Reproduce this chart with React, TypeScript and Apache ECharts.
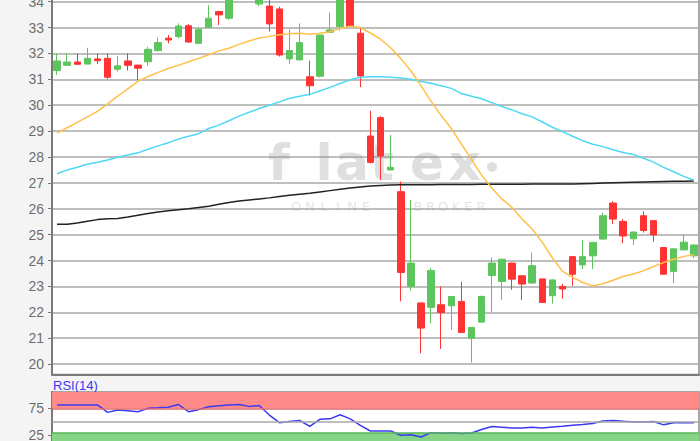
import React, { useEffect, useRef } from 'react';
import * as echarts from 'echarts';

const categories: string[] = Array.from({ length: 64 }, (_, i) => `T${i + 1}`);

const opens = [
  31.34, 31.54, 31.67, 31.59, 31.79, 31.81, 31.39, 31.71, 31.55, 31.68,
  32.11, 32.59, 32.65, 33.07, 32.39, 33.01, 33.62, 33.36, 34.4, 34.9,
  33.91, 33.83, 33.72, 31.79, 31.75, 31.1, 31.12, 32.82, 33.04, 34.3,
  32.78, 28.81, 29.52, 27.5, 26.66, 23.0, 22.36, 22.19, 22.29, 22.25,
  22.42, 21.0, 21.62, 23.42, 23.19, 23.9, 23.41, 23.13, 23.29, 22.64,
  23.0, 24.15, 23.83, 24.18, 24.83, 26.22, 25.51, 24.84, 25.73, 25.54,
  24.5, 23.58, 24.41, 24.18,
];
const closes = [
  31.71, 31.67, 31.58, 31.81, 31.72, 31.08, 31.52, 31.54, 31.43, 32.16,
  32.42, 32.52, 33.06, 32.44, 32.93, 33.36, 33.49, 34.4, 34.9, 34.5,
  34.5, 33.14, 31.94, 32.11, 32.42, 30.75, 32.71, 32.91, 34.3, 33.06,
  31.13, 27.79, 28.04, 27.6, 23.54, 23.9, 21.39, 23.61, 21.99, 22.61,
  21.22, 21.41, 22.61, 23.9, 24.05, 23.28, 23.09, 23.8, 22.38, 23.25,
  22.9, 23.47, 24.15, 24.7, 25.73, 25.6, 24.95, 25.1, 25.16, 24.99,
  23.47, 24.45, 24.71, 24.6,
];
const lows = [
  31.17, 31.53, 31.57, 31.58, 31.59, 31.01, 31.3, 31.34, 30.97, 31.53,
  32.07, 32.39, 32.59, 32.41, 32.39, 33.0, 33.1, 33.3, 34.2, 34.1,
  33.83, 32.84, 31.88, 31.6, 31.73, 30.37, 31.07, 32.8, 32.88, 33.03,
  30.7, 27.75, 27.11, 27.48, 22.42, 22.84, 20.42, 21.58, 20.58, 21.32,
  21.2, 20.06, 21.6, 22.01, 22.48, 22.87, 22.48, 23.1, 22.36, 22.33,
  22.52, 23.02, 23.67, 23.67, 24.81, 25.41, 24.67, 24.6, 25.08, 24.73,
  23.46, 23.13, 24.4, 24.1,
];
const highs = [
  32.0, 32.0, 32.0, 32.22, 32.0, 32.0, 31.9, 32.0, 31.56, 32.26,
  32.62, 32.71, 33.16, 33.13, 33.0, 33.87, 33.64, 34.6, 35.1, 35.0,
  34.7, 34.2, 33.8, 32.93, 33.16, 31.72, 32.72, 33.58, 34.5, 34.5,
  33.0, 29.78, 29.58, 28.85, 27.05, 26.34, 22.37, 23.71, 23.0, 22.62,
  23.18, 21.42, 22.65, 24.12, 24.07, 23.92, 23.43, 24.31, 23.3, 23.27,
  23.1, 24.17, 24.8, 24.72, 25.84, 26.29, 25.6, 25.12, 25.9, 25.56,
  24.52, 24.47, 24.99, 24.62,
];

const maShort = [
  28.92, 29.13, 29.34, 29.55, 29.76, 30.05, 30.35, 30.63, 30.92, 31.11,
  31.27, 31.42, 31.54, 31.68, 31.81, 31.95, 32.1, 32.2, 32.35, 32.48,
  32.6, 32.66, 32.72, 32.76, 32.78, 32.74, 32.78, 32.84, 32.97, 33.05,
  33.0, 32.79, 32.55, 32.22, 31.8, 31.33, 30.75, 30.15, 29.6, 29.1,
  28.5, 27.9, 27.3, 26.8, 26.38, 26.05, 25.6, 25.22, 24.7, 24.1,
  23.58, 23.35, 23.15, 23.02, 23.1, 23.24, 23.38, 23.48, 23.6, 23.77,
  23.92, 24.05, 24.16, 24.22,
];
const maMedium = [
  27.35, 27.5, 27.6, 27.72, 27.8, 27.88, 27.99, 28.08, 28.16, 28.3,
  28.43, 28.55, 28.69, 28.8, 28.9, 29.1, 29.23, 29.4, 29.58, 29.73,
  29.87, 30.0, 30.13, 30.27, 30.35, 30.42, 30.55, 30.69, 30.84, 30.98,
  31.08, 31.1, 31.1, 31.08, 31.05, 31.0, 30.92, 30.85, 30.75, 30.65,
  30.45, 30.35, 30.25, 30.1, 29.95, 29.82, 29.67, 29.55, 29.35, 29.15,
  28.98, 28.8, 28.63, 28.49, 28.4, 28.28, 28.17, 28.1, 27.95, 27.8,
  27.6, 27.43, 27.25, 27.1,
];
const maLong = [
  25.4, 25.4, 25.45, 25.52, 25.58, 25.61, 25.62, 25.68, 25.75, 25.82,
  25.87, 25.92, 25.96, 26.0, 26.05, 26.1, 26.17, 26.24, 26.3, 26.34,
  26.38, 26.42, 26.47, 26.52, 26.56, 26.6, 26.65, 26.7, 26.75, 26.8,
  26.84, 26.88, 26.9, 26.92, 26.93, 26.93, 26.93, 26.93, 26.94, 26.94,
  26.94, 26.94, 26.95, 26.95, 26.95, 26.95, 26.95, 26.96, 26.96, 26.96,
  26.96, 26.96, 26.97, 26.98, 26.99, 27.0, 27.01, 27.02, 27.03, 27.04,
  27.05, 27.06, 27.06, 27.07,
];
const rsi = [
  81.1, 81.1, 81.1, 81.1, 81.1, 67.5, 71.9, 70.5, 68.7, 74.9,
  75.8, 77.0, 82.0, 68.7, 72.5, 78.0, 79.5, 81.0, 82.0, 78.5,
  80.0, 62.5, 48.5, 50.5, 52.5, 41.5, 54.7, 55.5, 63.0, 55.5,
  43.6, 33.2, 33.2, 33.2, 25.3, 26.4, 22.2, 30.1, 29.0, 30.1,
  28.5, 29.4, 36.0, 41.5, 40.2, 38.7, 38.7, 40.2, 38.7, 40.5,
  42.0, 43.8, 45.2, 47.0, 51.8, 52.6, 51.0, 49.8, 49.8, 50.8,
  44.5, 48.5, 48.5, 48.5,
];

const rsiLabels = [25, 75];
const wmMain = ['f', 'l', 'a', 't', 'e', 'x'];
const wmSub = 'ONLINE BROKER';

export default function App() {
  const ref = useRef<HTMLDivElement>(null);
  useEffect(() => {
    if (!ref.current) return;
    const chart = echarts.init(ref.current, undefined, { renderer: 'svg' });
    const candleData = opens.map((o, i) => [o, closes[i], lows[i], highs[i]]);
    const wmCenters = [279, 324, 352, 382, 427, 465];
    const subGraphics: any[] = [];
    wmSub.split('').forEach((ch, i) => {
      if (ch === ' ') return;
      const x = i < 6 ? 296 + i * 14 : 418 + (i - 7) * 12.6;
      subGraphics.push({
        type: 'text', z: 1, silent: true,
        style: { text: ch, x, y: 206, fill: 'rgba(150,150,150,0.25)', font: '13px "DejaVu Sans"', textAlign: 'center', textVerticalAlign: 'middle' },
      });
    });
    const option: any = {
      animation: false,
      backgroundColor: '#f4f4f4',
      grid: [
        { left: 52, top: -24.2, width: 647, height: 398.6, show: true, outerBoundsMode: 'none', containLabel: false, backgroundColor: '#ffffff', borderColor: '#8a8a8a', borderWidth: 1.5 },
        { left: 52, top: 392, width: 647, height: 57, show: true, outerBoundsMode: 'none', containLabel: false, backgroundColor: '#ffffff', borderColor: '#8a8a8a', borderWidth: 1.5 },
      ],
      xAxis: [
        { type: 'category', gridIndex: 0, data: categories, boundaryGap: true, axisLine: { show: true, lineStyle: { color: '#7a7a7a', width: 2 } }, axisTick: { show: false }, axisLabel: { show: false }, splitLine: { show: false } },
        { type: 'category', gridIndex: 1, data: categories, boundaryGap: true, axisLine: { show: false }, axisTick: { show: false }, axisLabel: { show: false }, splitLine: { show: false } },
      ],
      yAxis: [
        {
          type: 'value', gridIndex: 0, min: 19.6, max: 35, splitNumber: 15, scale: true,
          axisLine: { show: true, lineStyle: { color: '#7a7a7a', width: 2 } },
          axisTick: { show: true, length: 4, lineStyle: { color: '#7a7a7a' } },
          axisLabel: { color: '#6e6e6e', fontSize: 14, fontFamily: '"Liberation Sans", Arial, sans-serif', margin: 8, showMinLabel: false, formatter: (v: number) => (Number.isInteger(v) ? String(v) : '') },
          splitLine: { show: true, lineStyle: { color: '#a8a8a8', width: 1.5 } },
        },
        {
          type: 'value', gridIndex: 1, min: 0, max: 105, interval: 25,
          axisLine: { show: true, lineStyle: { color: '#7a7a7a', width: 2 } },
          axisTick: { show: true, length: 4, customValues: rsiLabels, lineStyle: { color: '#7a7a7a' } },
          axisLabel: { color: '#6e6e6e', fontSize: 14, fontFamily: '"Liberation Sans", Arial, sans-serif', margin: 8, customValues: rsiLabels, formatter: (v: number) => (rsiLabels.includes(v) ? String(v) : '') },
          splitLine: { show: false },
        },
      ],
      graphic: [
        ...wmMain.map((ch, i) => ({
          type: 'text', z: 1, silent: true,
          style: { text: ch, x: wmCenters[i], y: 163, fill: 'rgba(150,150,150,0.3)', font: 'bold 50px "DejaVu Sans"', textAlign: 'center', textVerticalAlign: 'middle' },
        })),
        { type: 'circle', z: 1, silent: true, shape: { cx: 492, cy: 167, r: 5 }, style: { fill: 'rgba(150,150,150,0.3)' } },
        ...subGraphics,
        {
          type: 'text', silent: true,
          style: { text: 'RSI(14)', x: 53, y: 385, fill: '#3838f0', font: '13px "Liberation Sans", Arial, sans-serif', textVerticalAlign: 'middle' },
        },
      ],
      series: [
        {
          type: 'candlestick', xAxisIndex: 0, yAxisIndex: 0, data: candleData, barWidth: 7, z: 3,
          itemStyle: { color: '#5dc55d', color0: '#ff3333', borderColor: '#5dc55d', borderColor0: '#ff3333', borderWidth: 1 },
        },
        { type: 'line', xAxisIndex: 0, yAxisIndex: 0, data: maLong, symbol: 'none', z: 4, lineStyle: { color: '#222222', width: 1.5 } },
        { type: 'line', xAxisIndex: 0, yAxisIndex: 0, data: maMedium, symbol: 'none', z: 4, lineStyle: { color: '#4dd8f4', width: 1.5 } },
        { type: 'line', xAxisIndex: 0, yAxisIndex: 0, data: maShort, symbol: 'none', z: 4, lineStyle: { color: '#ffc04a', width: 1.5 } },
        {
          type: 'line', xAxisIndex: 1, yAxisIndex: 1, data: rsi, symbol: 'none', z: 4,
          lineStyle: { color: '#3a3af2', width: 1.5 },
          markArea: {
            silent: true,
            data: [
              [{ yAxis: 75, itemStyle: { color: '#ff8a8a' } }, { yAxis: 105 }],
              [{ yAxis: 0, itemStyle: { color: '#86d486' } }, { yAxis: 30 }],
            ],
          },
          markLine: {
            silent: true, symbol: 'none', label: { show: false },
            data: [
              { yAxis: 75, lineStyle: { color: '#e06464', width: 1.5, type: 'solid' } },
              { yAxis: 50, lineStyle: { color: '#a8a8a8', width: 1.5, type: 'solid' } },
              { yAxis: 30, lineStyle: { color: '#5cb85c', width: 1.5, type: 'solid' } },
            ],
          },
        },
      ],
    };
    chart.setOption(option);
    return () => chart.dispose();
  }, []);
  return <div ref={ref} style={{ position: 'fixed', left: 0, top: 0, width: 700, height: 441 }} />;
}
